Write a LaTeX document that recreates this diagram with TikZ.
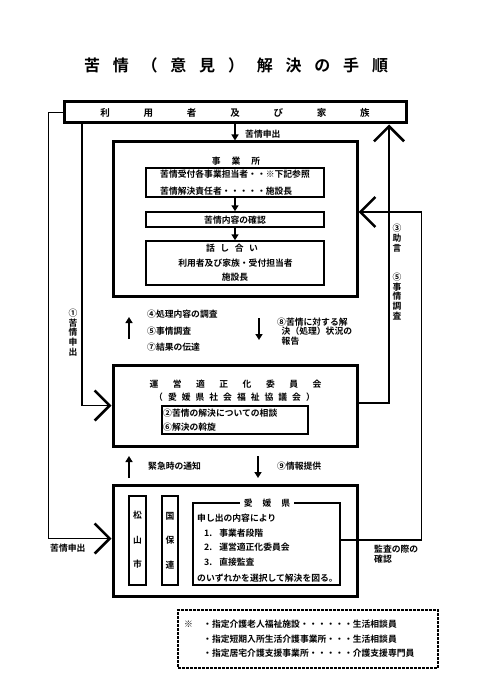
\documentclass[tikz,border=0pt]{standalone}
\usepackage{fontspec}
\setmainfont{Noto Sans CJK JP}[BoldFont={* Bold}]
\usetikzlibrary{arrows.meta}
\newcommand\myfs{\fontsize{8.8}{9.6}\selectfont\bfseries}
\begin{document}
\begin{tikzpicture}[x=1pt,y=-1pt,
 every node/.style={font=\myfs, inner sep=0pt},
 thickbox/.style={draw, line width=3pt, rectangle, inner sep=0pt},
 thinbox/.style={draw, line width=1.5pt, rectangle, inner sep=0pt},
 conn/.style={line width=1.5pt},
 chev/.style={-{Straight Barb[length=15pt,width=30pt,line width=2.6pt]}},
 fat/.style={line width=2.5pt, -{Triangle[length=6pt,width=7pt]}},
 lbl/.style={anchor=west},
 vlbl/.style={align=center, font=\fontsize{8.8}{9.8}\selectfont\bfseries},
]
\useasboundingbox (0,0) rectangle (480,679);
\fill[white] (0,0) rectangle (480,679);

% title
\node[font=\fontsize{16}{18}\selectfont\bfseries] (title) at (236,65)
 {苦\hspace{12.8pt}情\hspace{12.8pt}（\hspace{12.8pt}意\hspace{12.8pt}見\hspace{12.8pt}）\hspace{12.8pt}解\hspace{12.8pt}決\hspace{12.8pt}の\hspace{12.8pt}手\hspace{12.8pt}順};

% users box
\node[thickbox, minimum width=342pt, minimum height=21pt] (users) at (235,112.5) {};
\node[font=\fontsize{9.5}{10}\selectfont\bfseries] (userst) at (235,113)
 {利\hspace{33.8pt}用\hspace{33.8pt}者\hspace{33.8pt}及\hspace{33.8pt}び\hspace{33.8pt}家\hspace{33.8pt}族};

% jimusho
\node[thickbox, minimum width=244pt, minimum height=154pt] (jim) at (235,219) {};
\node (jimt) at (236,161) {事\hspace{11pt}業\hspace{11pt}所};
\node[thinbox, minimum width=178pt, minimum height=29pt] (b1) at (235,182.5) {};
\node[lbl] (b1a) at (160,174.5) {苦情受付各事業担当者・・※下記参照};
\node[lbl] (b1b) at (160,191) {苦情解決責任者・・・・・施設長};
\node[thinbox, minimum width=178pt, minimum height=15pt] (b2) at (235,219.5) {};
\node (b2t) at (235,220) {苦情内容の確認};
\node[thinbox, minimum width=178pt, minimum height=44pt] (b3) at (235,263) {};
\node (b3a) at (232,248.5) {話\hspace{5.5pt}し\hspace{5.5pt}合\hspace{5.5pt}い};
\node (b3b) at (235.5,263) {利用者及び家族・受付担当者};
\node (b3c) at (235,277.5) {施設長};

\draw[fat] (users.south) -- (jim.north);
\node[lbl] (l0) at (245,134) {苦情申出};
\draw[fat] (b1.south) -- (b2.north);
\draw[fat] (b2.south) -- (b3.north);

% middle labels
\coordinate (u1a) at (129,339);
\coordinate (u1b) at (129,317);
\draw[fat] (u1a) -- (u1b);
\node[lbl] (m1) at (147,314.5) {④処理内容の調査};
\node[lbl] (m2) at (147,331) {⑤事情調査};
\node[lbl] (m3) at (147,347.5) {⑦結果の伝達};
\coordinate (d1a) at (259,318);
\coordinate (d1b) at (259,340);
\draw[fat] (d1a) -- (d1b);
\node[lbl] (m4) at (277,322) {⑧苦情に対する解};
\node[lbl] (m5) at (281.5,331.5) {決（処理）状況の};
\node[lbl] (m6) at (281.5,341) {報告};

% committee
\node[thickbox, minimum width=244pt, minimum height=81pt] (com) at (235,405.5) {};
\node (comt) at (235.5,384.5) {運\hspace{14.5pt}営\hspace{14.5pt}適\hspace{14.5pt}正\hspace{14.5pt}化\hspace{14.5pt}委\hspace{14.5pt}員\hspace{14.5pt}会};
\node (coms) at (234.5,397.5) {（\hspace{5pt}愛\hspace{5pt}媛\hspace{5pt}県\hspace{5pt}社\hspace{5pt}会\hspace{5pt}福\hspace{5pt}祉\hspace{5pt}協\hspace{5pt}議\hspace{5pt}会\hspace{5pt}）};
\node[thinbox, minimum width=146pt, minimum height=28pt] (comi) at (235,420) {};
\node[lbl] (ci1) at (163,413.5) {②苦情の解決についての相談};
\node[lbl] (ci2) at (163,427.5) {⑥解決の斡旋};

% lower arrows
\coordinate (u2a) at (129,478);
\coordinate (u2b) at (129,456);
\draw[fat] (u2a) -- (u2b);
\node[lbl] (n1) at (148,466.5) {緊急時の通知};
\coordinate (d2a) at (258,456);
\coordinate (d2b) at (258,478);
\draw[fat] (d2a) -- (d2b);
\node[lbl] (n2) at (277,466.5) {⑨情報提供};

% bottom box
\node[thickbox, minimum width=244pt, minimum height=111pt] (bot) at (235,540.5) {};
\node[thinbox, minimum width=17pt, minimum height=89pt] (mat) at (137.5,540.5) {};
\node[align=center, font=\fontsize{8.8}{24.5}\selectfont\bfseries] (matt) at (137.5,540) {松\\山\\市};
\node[thinbox, minimum width=16pt, minimum height=89pt] (kok) at (170,540.5) {};
\node[align=center, font=\fontsize{8.8}{24.5}\selectfont\bfseries] (kokt) at (170,540.5) {国\\保\\連};
\node[thinbox, minimum width=147pt, minimum height=82pt] (ehi) at (266.5,544) {};
\node[fill=white, inner xsep=4pt, inner ysep=1pt] (ehit) at (267,503) {愛\hspace{10pt}媛\hspace{10pt}県};
\node[lbl] (e1) at (197,518.5) {申し出の内容により};
\node[lbl] (e2) at (204,533.5) {1.\hspace{7pt}事業者段階};
\node[lbl] (e3) at (204,547.5) {2.\hspace{7pt}運営適正化委員会};
\node[lbl] (e4) at (204,562) {3.\hspace{7pt}直接監査};
\node[lbl] (e5) at (197,578) {のいずれかを選択して解決を図る。};

% connectors
\draw[conn,chev] (users.west) -- ++(-14,0) |- ([yshift=2pt]bot.west);
\node[lbl] (lc1) at (50,548.5) {苦情申出};
\draw[conn,chev] ([xshift=19.5pt]users.south west) |- (com.west);
\node[vlbl] (lc2) at (73,332.5) {①\\苦\\情\\申\\出};
\draw[conn,chev] ([yshift=2.5pt]com.east) -| ([xshift=-18.5pt]users.south east);
\draw[conn,chev] ([yshift=4pt]ehi.east) -- ++(80.5,0) |- ([yshift=7pt]jim.east);
\node[vlbl] (lc3) at (397,238) {③\\助\\言};
\node[vlbl] (lc4) at (397,296.5) {⑤\\事\\情\\調\\査};
\node[anchor=north west, align=left] (lc5) at (374,545) {監査の際の\\確認};

% footnote
\node[draw, line width=1.8pt, dash pattern=on 3pt off 1pt, minimum width=260pt, minimum height=58pt] (foot) at (308,639) {};
\node[lbl] (f0) at (184,624.5) {※};
\node[lbl] (f1) at (203,624.5) {・指定介護老人福祉施設・・・・・・生活相談員};
\node[lbl] (f2) at (203,639) {・指定短期入所生活介護事業所・・・生活相談員};
\node[lbl] (f3) at (203,653.5) {・指定居宅介護支援事業所・・・・・介護支援専門員};
\end{tikzpicture}
\end{document}
